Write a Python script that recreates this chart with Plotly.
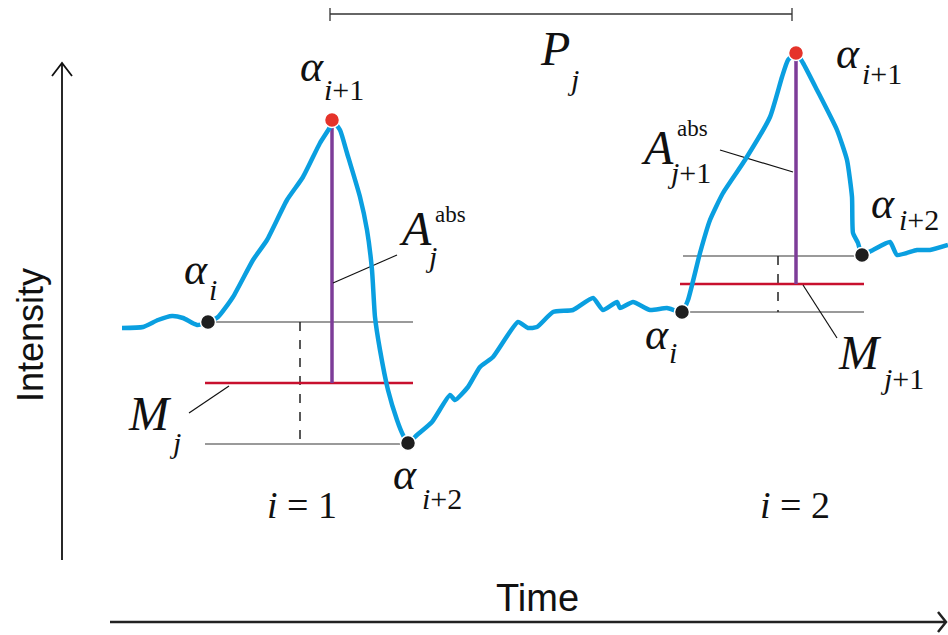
import plotly.graph_objects as go

# schematic drawn in pixel space (x right, y down)
curve_x = [122, 143, 158, 172, 183, 197, 208,
           218, 233, 253, 267, 287, 303, 320, 330, 332,
           340, 347, 360, 367, 372, 375, 380, 388, 397, 403, 408,
           417, 432, 450, 455, 468, 480, 493, 518, 528, 537, 553, 573,
           593, 603, 617, 620, 633, 650, 667, 682,
           688, 700, 710, 723, 745, 770, 782, 788, 796,
           803, 817, 837, 847, 852, 853, 858, 862,
           873, 890, 897, 917, 930, 948]
curve_y = [328, 327, 320, 316, 318, 325, 322,
           317, 297, 260, 240, 200, 177, 143, 127, 120,
           130, 153, 197, 230, 270, 317, 350, 390, 420, 435, 443,
           435, 422, 395, 400, 387, 367, 357, 322, 328, 327, 312, 310,
           298, 310, 302, 308, 302, 310, 308, 312,
           300, 253, 220, 193, 160, 117, 77, 60, 53,
           63, 90, 130, 160, 197, 233, 243, 255,
           250, 242, 255, 250, 250, 245]

# key points: alpha_i, alpha_{i+1} (peak), alpha_{i+2}
low_x = [208, 408, 682, 862]
low_y = [322, 443, 312, 255]
peak_x = [332, 796]
peak_y = [120, 53]

# levels for each peak: gray top, red mean, gray bottom
lvl_x0 = [205, 680]
lvl_x1 = [413, 864]
top_y = [322, 256]
mid_y = [383, 284]
bot_y = [444, 312]
dash_x = [300, 778]

fig = go.Figure()


def seg(x, y, color, width, dash="solid"):
    fig.add_trace(go.Scatter(x=x, y=y, mode="lines", hoverinfo="skip",
                             line=dict(color=color, width=width, dash=dash)))


for k in range(2):
    seg([lvl_x0[k] + 3, lvl_x1[k]], [top_y[k]] * 2, "#9a9a9a", 2)
    seg([lvl_x0[k], lvl_x1[k]], [bot_y[k]] * 2, "#9a9a9a", 2)
    seg([dash_x[k]] * 2, [top_y[k], bot_y[k]], "#222", 1.5, "dash")
    seg([lvl_x0[k], lvl_x1[k]], [mid_y[k]] * 2, "#c8102e", 2.5)
    seg([peak_x[k]] * 2, [peak_y[k], mid_y[k]], "#7d3c98", 3.5)

# leader lines
seg([333, 397], [283, 255], "#111", 1.2)
seg([189, 229], [413, 386], "#111", 1.2)
seg([720, 793], [150, 172], "#111", 1.2)
seg([803, 837], [285, 338], "#111", 1.2)

# period bracket
seg([330, 792], [14, 14], "#333", 1.3)
seg([330, 330], [8, 21], "#333", 1.3)
seg([792, 792], [8, 21], "#333", 1.3)

# signal
fig.add_trace(go.Scatter(x=curve_x, y=curve_y, mode="lines", hoverinfo="skip",
                         line=dict(color="#0a9fe0", width=4.5, shape="spline", smoothing=0.5)))
fig.add_trace(go.Scatter(x=low_x, y=low_y, mode="markers", hoverinfo="skip",
                         marker=dict(color="#1e1e1e", size=15, line=dict(color="white", width=1.5))))
fig.add_trace(go.Scatter(x=peak_x, y=peak_y, mode="markers", hoverinfo="skip",
                         marker=dict(color="#e5332a", size=15, line=dict(color="white", width=1.5))))

# axes with open arrowheads
seg([62, 62], [560, 63], "#111", 1.8)
seg([52, 62, 72], [76, 63, 76], "#111", 1.8)
seg([110, 946], [622, 622], "#222", 2.5)
seg([938, 946, 938], [612, 622, 632], "#222", 2.5)

serif = "Liberation Serif"
labels = [
    # text, x, y, size
    ("<i>α</i>", 312, 66, 44), ("<i>i</i>+1", 344, 89, 30),
    ("<i>α</i>", 196, 269, 44), ("<i>i</i>", 213, 289, 30),
    ("<i>A</i>", 415, 228, 48), ("abs", 450, 214, 23), ("<i>j</i>", 431, 256, 30),
    ("<i>M</i>", 150, 413, 48), ("<i>j</i>", 175, 442, 30),
    ("<i>α</i>", 405, 474, 44), ("<i>i</i>+2", 442, 498, 30),
    ("<i>P</i>", 555, 48, 48), ("<i>j</i>", 573, 79, 30),
    ("<i>α</i>", 848, 53, 44), ("<i>i</i>+1", 882, 73, 30),
    ("<i>A</i>", 657, 147, 48), ("abs", 692, 128, 23), ("<i>j</i>+1", 689, 172, 30),
    ("<i>α</i>", 883, 203, 44), ("<i>i</i>+2", 919, 219, 30),
    ("<i>α</i>", 657, 334, 44), ("<i>i</i>", 673, 352, 30),
    ("<i>M</i>", 860, 352, 48), ("<i>j</i>+1", 902, 378, 30),
    ("<i>i</i> = 1", 302, 505, 38), ("<i>i</i> = 2", 795, 505, 38),
]
for t, x, y, s in labels:
    fig.add_annotation(x=x, y=y, text=t, showarrow=False,
                       font=dict(family=serif, size=s, color="#111"))

fig.add_annotation(x=537, y=598, text="Time", showarrow=False,
                   font=dict(family="Liberation Sans", size=38, color="#111"))
fig.add_annotation(x=30, y=335, text="Intensity", showarrow=False, textangle=-90,
                   font=dict(family="Liberation Sans", size=36, color="#111"))

fig.update_layout(
    width=948, height=635,
    margin=dict(l=0, r=0, t=0, b=0),
    paper_bgcolor="white", plot_bgcolor="white",
    showlegend=False,
    xaxis=dict(range=[0, 948], visible=False, fixedrange=True),
    yaxis=dict(range=[635, 0], visible=False, fixedrange=True),
)

# drop the default page margin so the figure fills the window exactly
fig.write_html("out.html", config={"displayModeBar": False},
               post_script="document.body.style.margin='0';document.body.style.overflow='hidden';")
